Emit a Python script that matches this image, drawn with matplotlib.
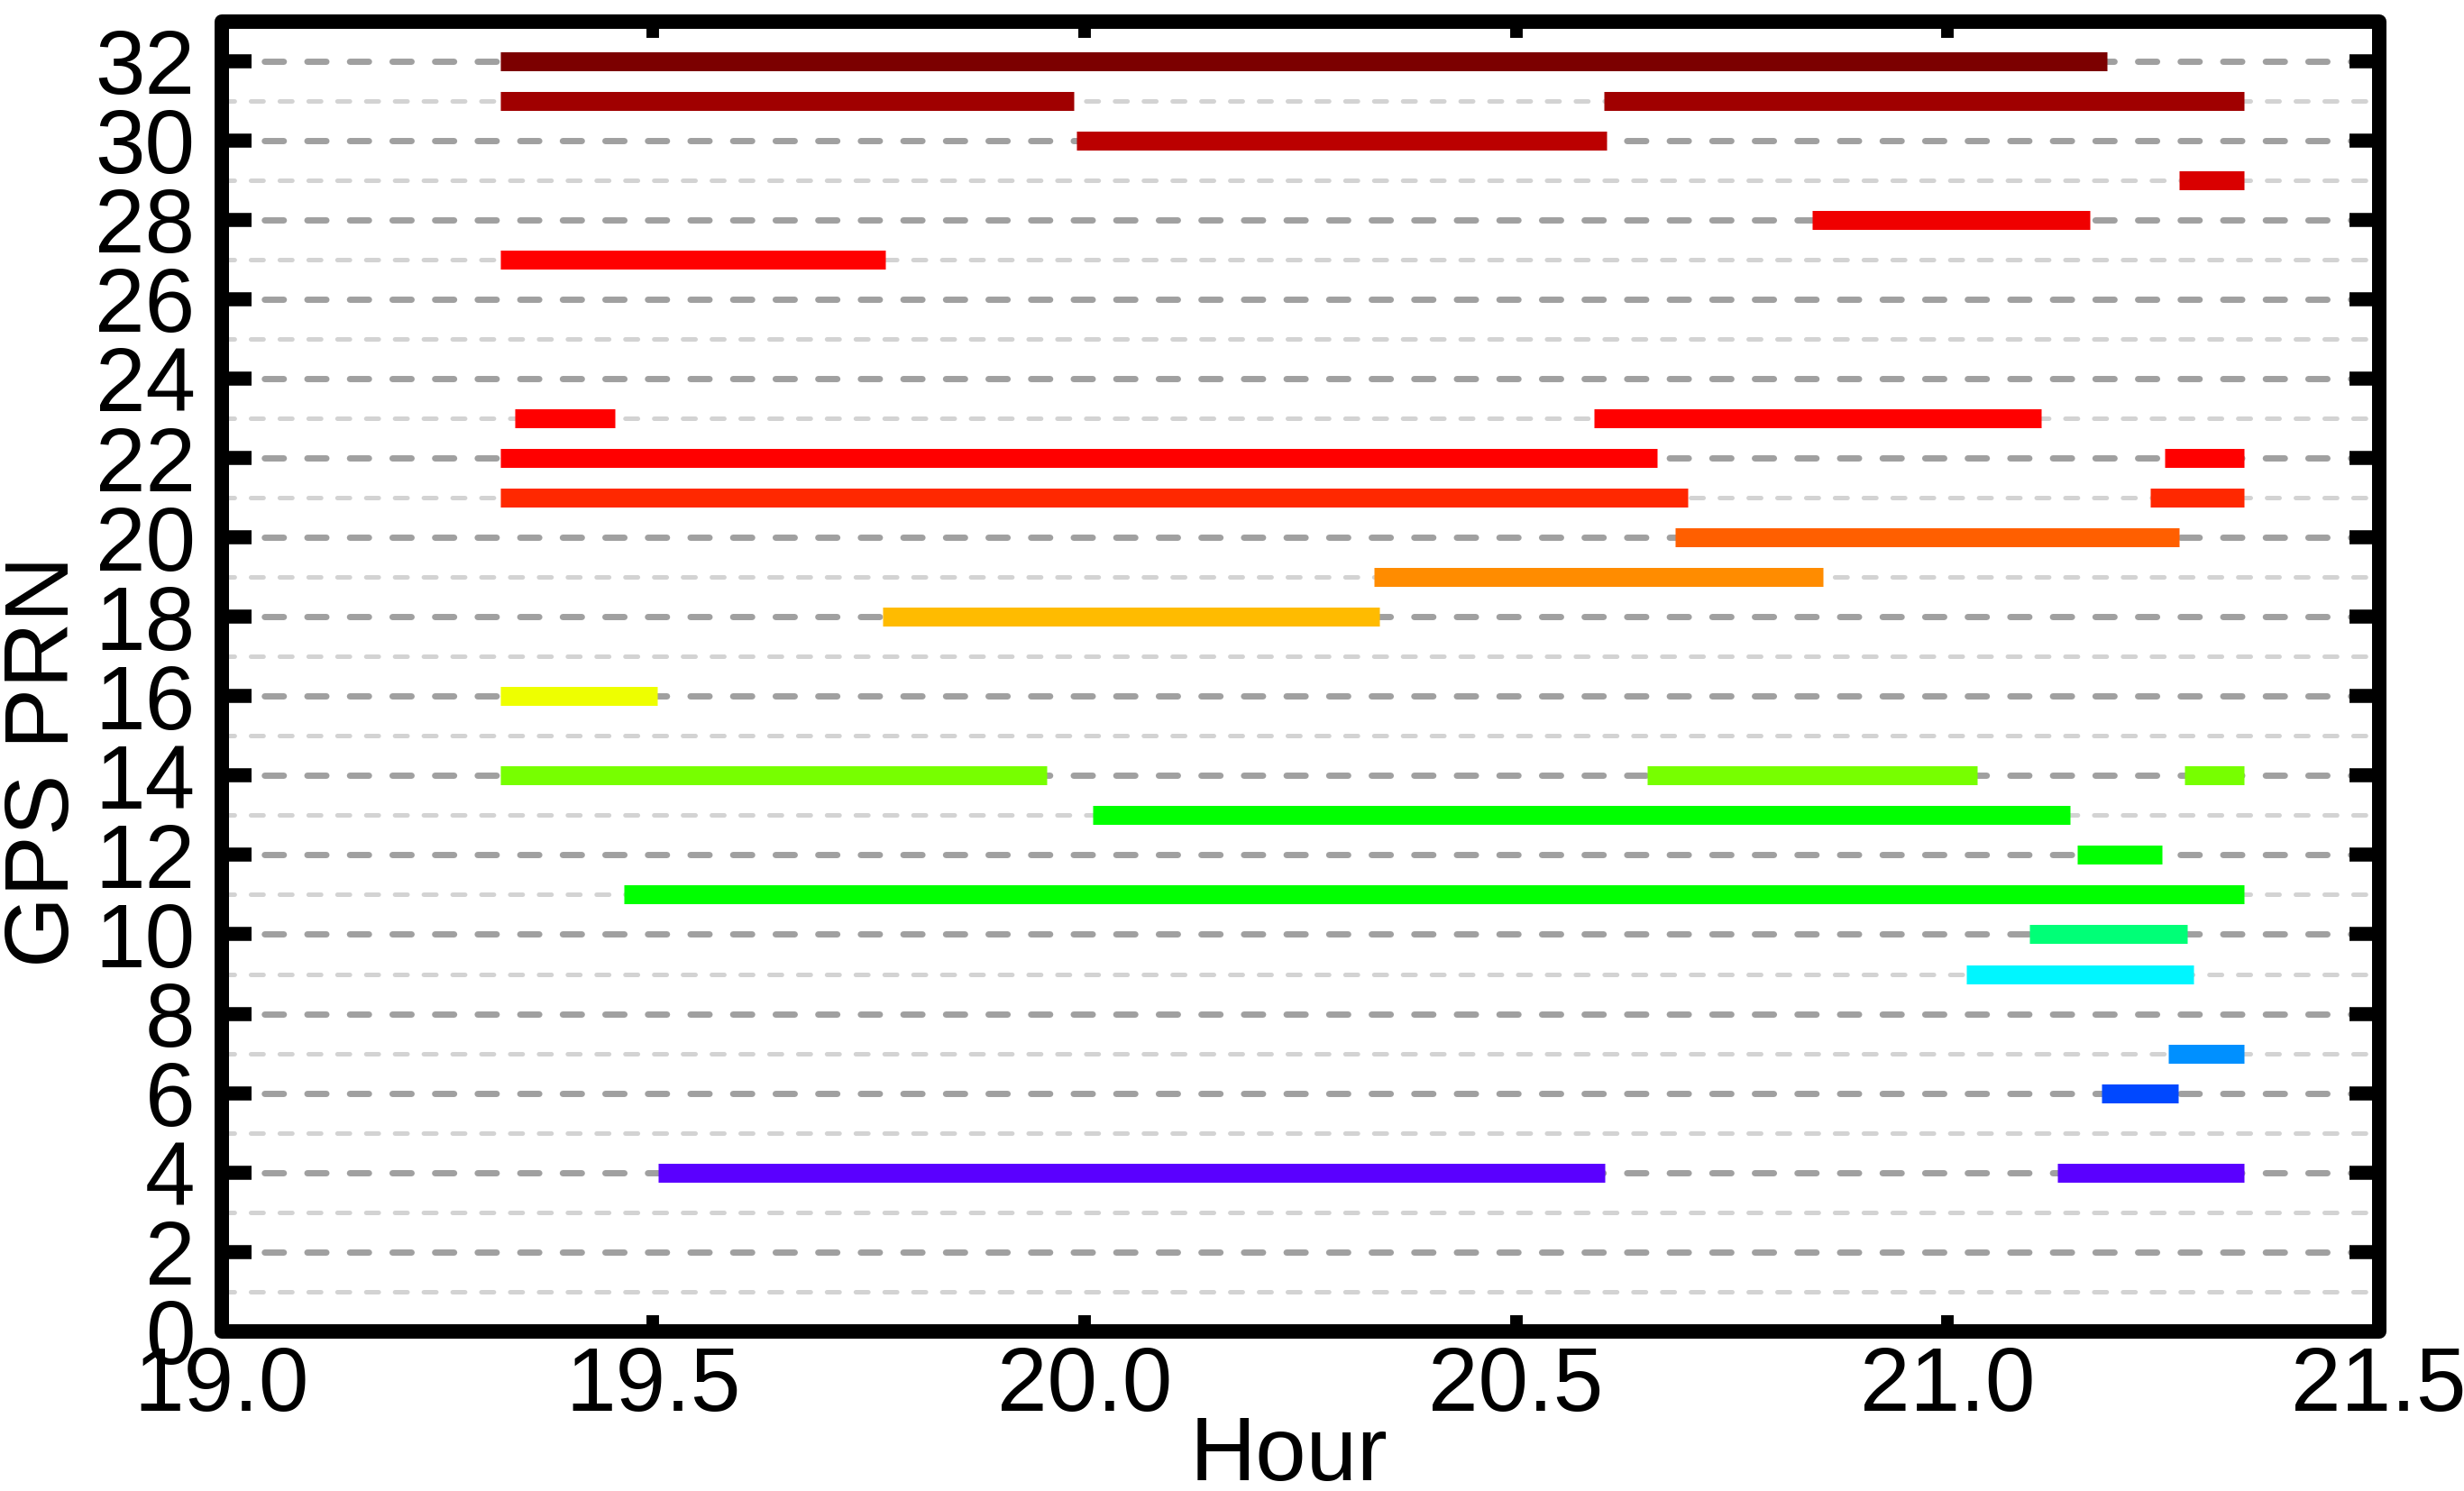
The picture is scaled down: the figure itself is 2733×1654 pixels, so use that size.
import matplotlib
matplotlib.use('Agg')
import matplotlib.pyplot as plt
from matplotlib import font_manager
from matplotlib.patches import Rectangle
from matplotlib.ticker import MultipleLocator

# 卫星可见时段数据 (每段一行: PRN, 开始, 结束)
seg_prn = [32, 31, 31, 30, 29, 28, 27, 23, 23, 22, 22, 21, 21, 20, 19, 18, 16,
           14, 14, 14, 13, 12, 11, 10, 9, 7, 6, 4, 4]
seg_start = [19.323, 19.323, 20.602, 19.991, 21.268, 20.843, 19.323, 19.340, 20.590,
             19.323, 21.252, 19.323, 21.235, 20.684, 20.335, 19.766, 19.323,
             19.323, 20.652, 21.275, 20.010, 21.150, 19.466, 21.095, 21.022,
             21.256, 21.179, 19.506, 21.127]
seg_end = [21.185, 19.988, 21.344, 20.605, 21.344, 21.165, 19.769, 19.456, 21.109,
           20.663, 21.344, 20.699, 21.344, 21.268, 20.856, 20.342, 19.505,
           19.956, 21.034, 21.344, 21.142, 21.249, 21.344, 21.278, 21.285,
           21.344, 21.267, 20.603, 21.344]

# 每个PRN的颜色
prn_colors = {
    32: '#7c0000', 31: '#a00000', 30: '#bb0000', 29: '#d90000', 28: '#f00000',
    27: '#ff0000', 23: '#ff0000', 22: '#ff0000', 21: '#ff2800', 20: '#ff5f00',
    19: '#ff8c00', 18: '#ffbb00', 16: '#eeff00', 14: '#77ff00', 13: '#00ff00',
    12: '#00ff00', 11: '#00ff00', 10: '#00ff77', 9: '#00f6ff', 7: '#0090ff',
    6: '#0048ff', 4: '#5a00ff',
}

x_ticks = [19.0, 19.5, 20.0, 20.5, 21.0, 21.5]
y_ticks = list(range(0, 33, 2))

# 字体: 优先使用窄体
names = {f.name for f in font_manager.fontManager.ttflist}
if 'Liberation Sans Narrow' in names:
    font_family = ['Liberation Sans Narrow', 'DejaVu Sans']
else:
    font_family = ['Liberation Sans', 'DejaVu Sans']
plt.rcParams['font.family'] = font_family
plt.rcParams['lines.scale_dashes'] = False

DPI = 200
fig = plt.figure(figsize=(2733 / DPI, 1654 / DPI), dpi=DPI)
ax = fig.add_axes([0.0899, 0.1071, 0.8756, 0.8786])

ax.set_xlim(19.0, 21.5)
ax.set_ylim(0, 33)

# 网格线: 偶数深灰, 奇数浅灰
for y in range(1, 33):
    if y % 2 == 0:
        ax.axhline(y, color='#a0a0a0', lw=2.5, linestyle=(0, (7.6, 9.4)),
                   dash_capstyle='round', zorder=1)
    else:
        ax.axhline(y, color='#d3d3d3', lw=1.8, linestyle=(0, (5.0, 6.5)),
                   dash_capstyle='round', zorder=1)

# 绘制可见时段
colors = [prn_colors[p] for p in seg_prn]
ax.hlines(seg_prn, seg_start, seg_end, colors=colors, lw=7.56,
          capstyle='butt', zorder=3)

# 坐标轴外观
for sp in ax.spines.values():
    sp.set_visible(False)
frame = Rectangle((0, 0), 1, 1, transform=ax.transAxes, fill=False,
                  lw=5.76, ec='black', joinstyle='round', clip_on=False, zorder=6)
ax.add_patch(frame)

ax.set_xticks(x_ticks)
ax.set_xticklabels([f'{v:.1f}' for v in x_ticks])
ax.set_yticks(y_ticks)
ax.set_yticklabels([str(v) for v in y_ticks])
ax.tick_params(axis='y', which='major', direction='in', left=True, right=True,
               length=12, width=5.6, labelsize=36, pad=10.5)
ax.tick_params(axis='x', which='major', direction='in', top=True, bottom=True,
               length=6.5, width=5.0, labelsize=36, pad=5.5)

fig.text(1429.5 / 2733, 1 - 1642 / 1654, 'Hour', ha='center', va='baseline',
         fontsize=36.5)
fig.text(50 / 2733, 1 - 845 / 1654, 'GPS PRN', ha='center', va='center',
         rotation=90, fontsize=36.5)

fig.savefig('out.png', dpi=DPI)
